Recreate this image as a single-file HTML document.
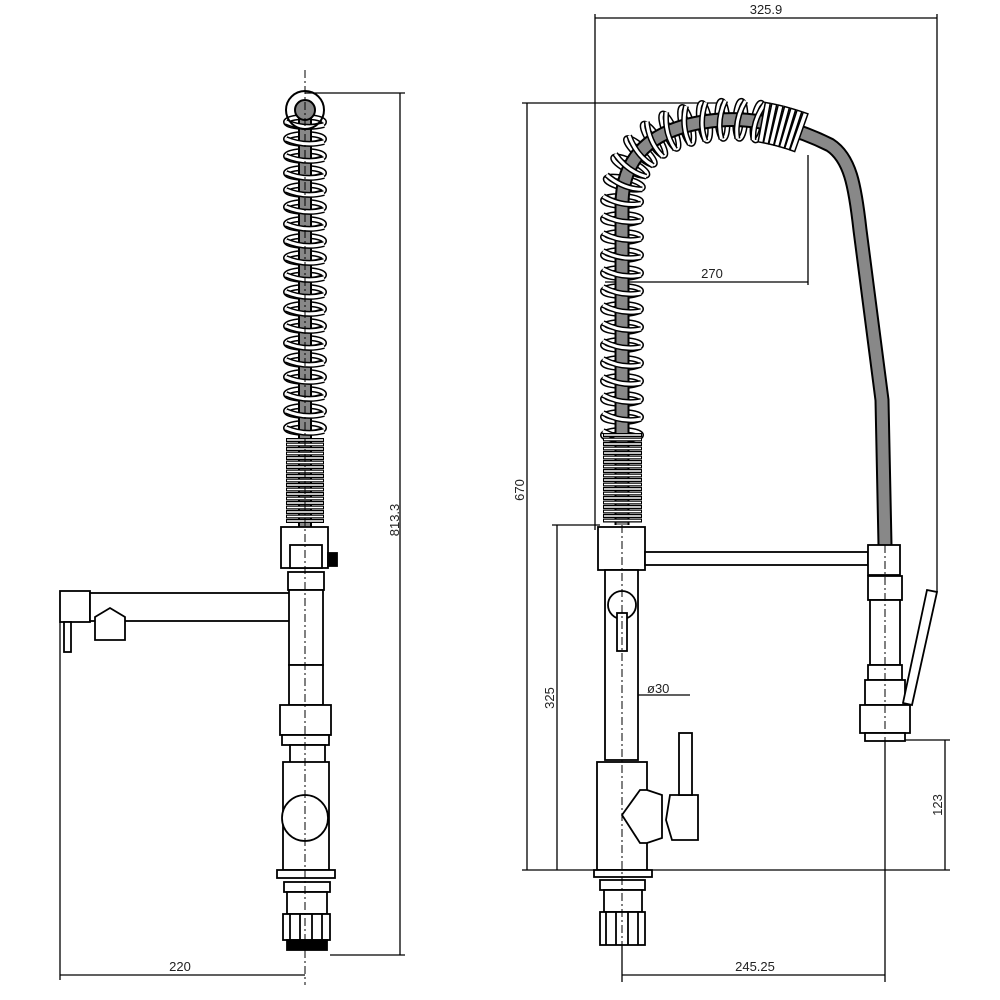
<!DOCTYPE html>
<html><head><meta charset="utf-8"><style>
html,body{margin:0;padding:0;background:#fff}
svg{display:block}
text{font-family:"Liberation Sans",sans-serif;font-size:13px;fill:#222}
</style></head><body>
<svg id="s" width="1000" height="1000" viewBox="0 0 1000 1000" xmlns="http://www.w3.org/2000/svg">
<g fill="none" stroke="#000" stroke-width="1.3">
<line x1="305" y1="93" x2="405" y2="93"/>
<line x1="330" y1="955" x2="405" y2="955"/>
<line x1="400" y1="93" x2="400" y2="955"/>
<line x1="60" y1="622" x2="60" y2="980"/>
<line x1="60" y1="975" x2="305" y2="975"/>
<line x1="595" y1="14" x2="595" y2="530"/>
<line x1="937" y1="14" x2="937" y2="592"/>
<line x1="595" y1="18" x2="937" y2="18"/>
<line x1="522" y1="103" x2="720" y2="103"/>
<line x1="527" y1="103" x2="527" y2="870"/>
<line x1="522" y1="870" x2="950" y2="870"/>
<line x1="552" y1="525" x2="600" y2="525"/>
<line x1="557" y1="525" x2="557" y2="870"/>
<line x1="885" y1="740" x2="950" y2="740"/>
<line x1="945" y1="740" x2="945" y2="870"/>
<line x1="885" y1="740" x2="885" y2="982"/>
<line x1="622" y1="945" x2="622" y2="982"/>
<line x1="622" y1="975" x2="885" y2="975"/>
<line x1="605" y1="282" x2="808" y2="282"/>
<line x1="808" y1="155" x2="808" y2="285"/>
<line x1="607" y1="695" x2="690" y2="695"/>
</g>
<g font-size="13">
<text x="180" y="971" text-anchor="middle">220</text>
<text transform="translate(399,520) rotate(-90)" text-anchor="middle">813.3</text>
<text x="766" y="14" text-anchor="middle">325.9</text>
<text transform="translate(524,490) rotate(-90)" text-anchor="middle">670</text>
<text transform="translate(554,698) rotate(-90)" text-anchor="middle">325</text>
<text transform="translate(942,805) rotate(-90)" text-anchor="middle">123</text>
<text x="712" y="278" text-anchor="middle">270</text>
<text x="647" y="693">ø30</text>
<text x="755" y="971" text-anchor="middle">245.25</text>
</g>

<g id="lcoils"></g>
<line x1="305" y1="110" x2="305" y2="530" stroke="#000" stroke-width="14"/>
<line x1="305" y1="110" x2="305" y2="530" stroke="#888" stroke-width="10"/>
<g id="lcoils2"></g>
<circle cx="305" cy="110" r="19" fill="none" stroke="#000" stroke-width="2"/>
<circle cx="305" cy="110" r="10" fill="#888" stroke="#000" stroke-width="2"/>

<g fill="#fff" stroke="#000" stroke-width="1.8">
<rect x="281" y="527" width="47" height="41"/>
<rect x="328" y="553" width="9" height="13" fill="#000"/>
<rect x="290" y="545" width="32" height="23"/>
<rect x="288" y="572" width="36" height="18"/>
<rect x="60" y="591" width="30" height="31"/>
<rect x="90" y="593" width="200" height="28"/>
<rect x="64" y="622" width="7" height="30"/>
<path d="M95 617 L110 608 L125 617 L125 640 L95 640 Z"/>
<rect x="289" y="590" width="34" height="75"/>
<rect x="289" y="665" width="34" height="40"/>
<rect x="280" y="705" width="51" height="30"/>
<rect x="282" y="735" width="47" height="10"/>
<rect x="290" y="745" width="35" height="20"/>
<rect x="283" y="762" width="46" height="108"/>
<circle cx="305" cy="818" r="23"/>
<rect x="277" y="870" width="58" height="8"/>
<rect x="284" y="882" width="46" height="10"/>
<rect x="287" y="892" width="40" height="22"/>
<rect x="283" y="914" width="47" height="26"/>
<rect x="287" y="940" width="40" height="10" fill="#000"/>
<line x1="290" y1="914" x2="290" y2="940"/><line x1="300" y1="914" x2="300" y2="940"/><line x1="312" y1="914" x2="312" y2="940"/><line x1="322" y1="914" x2="322" y2="940"/>
</g>
<line x1="305" y1="70" x2="305" y2="985" stroke="#000" stroke-width="1" stroke-dasharray="8 3 2 3"/>

<g id="rcoils"></g>
<path id="hp" d="M622 525 L622 205 C622 150 660 125 720 120 C760 117 800 130 830 145 C850 158 855 185 860 230 L882 400 L885 545" fill="none" stroke="#000" stroke-width="15"/>
<path d="M622 525 L622 205 C622 150 660 125 720 120 C760 117 800 130 830 145 C850 158 855 185 860 230 L882 400 L885 545" fill="none" stroke="#888" stroke-width="11"/>
<g id="rcoils2"></g>

<g fill="#fff" stroke="#000" stroke-width="1.8">
<rect x="598" y="527" width="47" height="43"/>
<rect x="645" y="552" width="223" height="13"/>
<rect x="605" y="570" width="33" height="190"/>
<circle cx="622" cy="605" r="14"/>
<rect x="617" y="613" width="10" height="38"/>
<rect x="597" y="762" width="50" height="108"/>
<path d="M647 790 L662 795 L662 838 L647 843 L640 843 L622 815 L640 790 Z"/>
<path d="M670 795 L698 795 L698 840 L672 840 L666 820 Z"/>
<rect x="679" y="733" width="13" height="62"/>
<rect x="594" y="870" width="58" height="7"/>
<rect x="600" y="880" width="45" height="10"/>
<rect x="604" y="890" width="38" height="22"/>
<rect x="600" y="912" width="45" height="33"/>
<line x1="606" y1="912" x2="606" y2="945"/><line x1="616" y1="912" x2="616" y2="945"/><line x1="628" y1="912" x2="628" y2="945"/><line x1="638" y1="912" x2="638" y2="945"/>
<rect x="868" y="545" width="32" height="30"/>
<rect x="868" y="576" width="34" height="24"/>
<rect x="870" y="600" width="30" height="65"/>
<rect x="868" y="665" width="34" height="15"/>
<rect x="865" y="680" width="40" height="25"/>
<rect x="860" y="705" width="50" height="28"/>
<rect x="865" y="733" width="40" height="8"/>
<path d="M927 590 L937 592 L912 705 L903 703 Z"/>
</g>
<line x1="622" y1="525" x2="622" y2="960" stroke="#000" stroke-width="1" stroke-dasharray="8 3 2 3"/>
<line x1="885" y1="545" x2="885" y2="745" stroke="#000" stroke-width="1" stroke-dasharray="8 3 2 3"/>
</svg>
<script>
(function(){
var NS="http://www.w3.org/2000/svg";
function el(p,tag,a){var e=document.createElementNS(NS,tag);for(var k in a)e.setAttribute(k,a[k]);p.appendChild(e);return e;}
var L=document.getElementById("lcoils"),L2=document.getElementById("lcoils2");
for(var y=122;y<435;y+=17){
 el(L,"ellipse",{cx:305,cy:y,rx:19,ry:5,fill:"none",stroke:"#000","stroke-width":6});
 el(L,"ellipse",{cx:305,cy:y,rx:19,ry:5,fill:"none",stroke:"#fff","stroke-width":3});
 el(L2,"path",{d:"M286 "+y+" Q305 "+(y+8)+" 324 "+(y+3),fill:"none",stroke:"#000","stroke-width":6});
 el(L2,"path",{d:"M286 "+y+" Q305 "+(y+8)+" 324 "+(y+3),fill:"none",stroke:"#fff","stroke-width":3});
}
for(var y=440;y<525;y+=4.5){
 el(L2,"line",{x1:286,y1:y,x2:324,y2:y,stroke:"#000","stroke-width":4});
 el(L2,"line",{x1:287,y1:y,x2:323,y2:y,stroke:"#fff","stroke-width":1.6});
}
var R=document.getElementById("rcoils"),R2=document.getElementById("rcoils2");
var hp=document.getElementById("hp"),len=hp.getTotalLength();
var start=90, end=0;
for(var t=0;t<len;t+=2){var p=hp.getPointAtLength(t);if(p.x>760&&p.y<140){end=t;break;}}
for(var t=start;t<end;t+=18){
 var p=hp.getPointAtLength(t),q=hp.getPointAtLength(t+1);
 var ang=Math.atan2(q.y-p.y,q.x-p.x)*180/Math.PI+90;
 var g=el(R2,"g",{transform:"translate("+p.x+","+p.y+") rotate("+ang+")"});
 el(g,"path",{d:"M-19 -4 Q0 6 19 2",fill:"none",stroke:"#000","stroke-width":6});
 el(g,"path",{d:"M-19 -4 Q0 6 19 2",fill:"none",stroke:"#fff","stroke-width":3});
 var g2=el(R,"g",{transform:"translate("+p.x+","+p.y+") rotate("+ang+")"});
 el(g2,"ellipse",{cx:0,cy:0,rx:19,ry:5,fill:"none",stroke:"#000","stroke-width":6});
 el(g2,"ellipse",{cx:0,cy:0,rx:19,ry:5,fill:"none",stroke:"#fff","stroke-width":3});
}
for(var y=435;y<525;y+=4.5){
 el(R2,"line",{x1:603,y1:y,x2:642,y2:y,stroke:"#000","stroke-width":4});
 el(R2,"line",{x1:604,y1:y,x2:641,y2:y,stroke:"#fff","stroke-width":1.6});
}
for(var t=end+4;t<end+46;t+=6){
 var p=hp.getPointAtLength(t),q=hp.getPointAtLength(t+1);
 var ang=Math.atan2(q.y-p.y,q.x-p.x)*180/Math.PI;
 var g=el(R2,"g",{transform:"translate("+p.x+","+p.y+") rotate("+ang+")"});
 el(g,"rect",{x:-2.5,y:-20,width:5,height:40,fill:"#fff",stroke:"#000","stroke-width":1.5});
}
})();
</script>
</body></html>
